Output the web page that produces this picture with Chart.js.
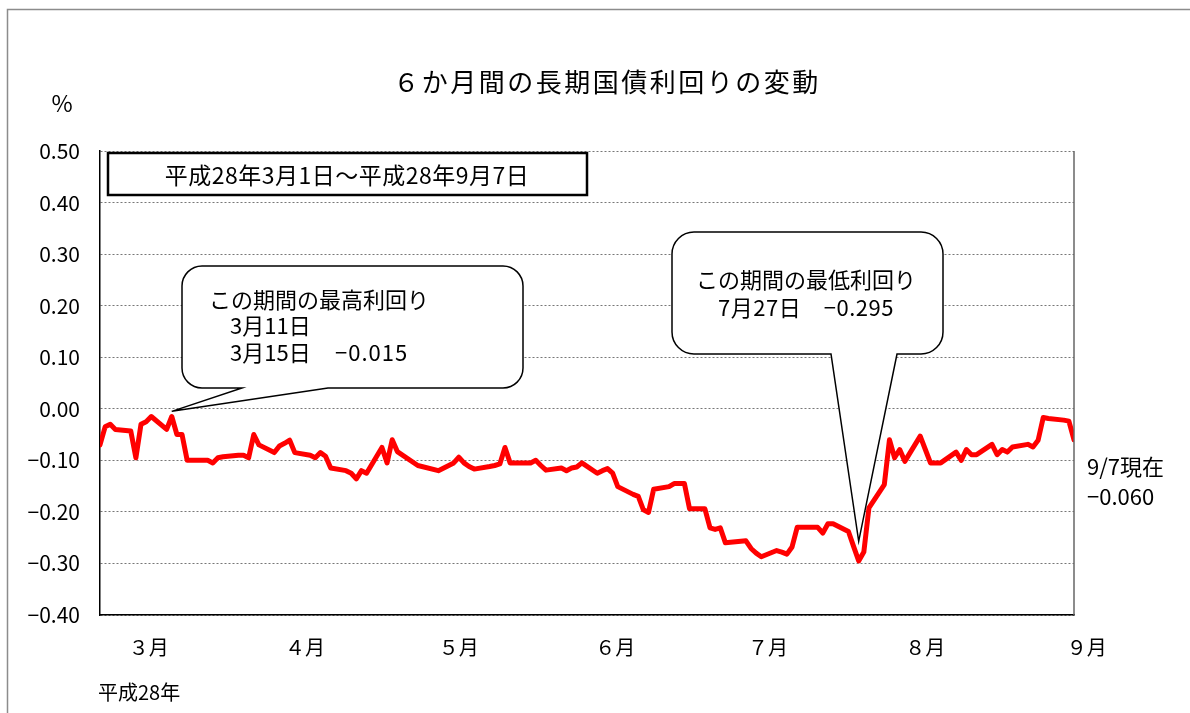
<!DOCTYPE html>
<html>
<head>
<meta charset="utf-8">
<script src="https://cdn.jsdelivr.net/npm/chart.js@4/dist/chart.umd.min.js"></script>
<style>
  html, body { margin: 0; padding: 0; background: #fff; }
  #wrap { width: 1190px; height: 713px; }
</style>
</head>
<body>
<div id="wrap"><canvas id="c" width="1190" height="713"></canvas></div>
<script>
// trading days, 平成28年 (2016)
const dates = [
  '3/1','3/2','3/3','3/4','3/7','3/8','3/9','3/10','3/11','3/14','3/15','3/16','3/17','3/18','3/22','3/23','3/24','3/25','3/28','3/29','3/30','3/31',
  '4/1','4/4','4/5','4/6','4/7','4/8','4/11','4/12','4/13','4/14','4/15','4/18','4/19','4/20','4/21','4/22','4/25','4/26','4/27','4/28',
  '5/2','5/6','5/9','5/10','5/11','5/12','5/13','5/16','5/17','5/18','5/19','5/20','5/23','5/24','5/25','5/26','5/27','5/30','5/31',
  '6/1','6/2','6/3','6/6','6/7','6/8','6/9','6/10','6/13','6/14','6/15','6/16','6/17','6/20','6/21','6/22','6/23','6/24','6/27','6/28','6/29','6/30',
  '7/1','7/4','7/5','7/6','7/7','7/8','7/11','7/12','7/13','7/14','7/15','7/19','7/20','7/21','7/22','7/25','7/26','7/27','7/28','7/29',
  '8/1','8/2','8/3','8/4','8/5','8/8','8/9','8/10','8/12','8/15','8/16','8/17','8/18','8/19','8/22','8/23','8/24','8/25','8/26','8/29','8/30','8/31',
  '9/1','9/2','9/5','9/6','9/7'
];
const yields = [
  -0.070,-0.035,-0.030,-0.040,-0.043,-0.095,-0.030,-0.025,-0.015,-0.040,-0.015,-0.050,-0.050,-0.100,-0.100,-0.105,-0.095,-0.093,-0.090,-0.090,-0.095,-0.050,
  -0.070,-0.085,-0.072,-0.067,-0.061,-0.085,-0.090,-0.095,-0.085,-0.092,-0.115,-0.120,-0.125,-0.136,-0.120,-0.125,-0.075,-0.105,-0.060,-0.083,
  -0.110,-0.120,-0.105,-0.094,-0.105,-0.112,-0.117,-0.112,-0.110,-0.107,-0.075,-0.105,-0.105,-0.105,-0.100,-0.110,-0.119,-0.115,-0.120,
  -0.115,-0.113,-0.105,-0.125,-0.120,-0.116,-0.125,-0.151,-0.166,-0.170,-0.196,-0.201,-0.156,-0.151,-0.145,-0.145,-0.145,-0.194,-0.194,-0.231,-0.234,-0.231,
  -0.260,-0.257,-0.256,-0.271,-0.280,-0.287,-0.275,-0.278,-0.282,-0.268,-0.230,-0.230,-0.241,-0.223,-0.223,-0.238,-0.267,-0.295,-0.278,-0.192,
  -0.147,-0.060,-0.095,-0.079,-0.102,-0.053,-0.079,-0.105,-0.105,-0.084,-0.100,-0.079,-0.089,-0.089,-0.069,-0.089,-0.079,-0.084,-0.074,-0.069,-0.074,-0.061,
  -0.017,-0.019,-0.022,-0.024,-0.060
];
// month labels and where they sit (days after 3/1)
const monthLabels = ['３月','４月','５月','６月','７月','８月','９月'];
const monthLabelDays = [9.5, 40, 70, 100.5, 130.3, 161, 192.5];

const FONT = '"Noto Sans CJK JP", "Noto Sans", sans-serif';
const START = Date.UTC(2016, 2, 1);
const dayOf = s => {
  const [m, d] = s.split('/').map(Number);
  return Math.round((Date.UTC(2016, m - 1, d) - START) / 864e5);
};
const lastDay = dayOf(dates[dates.length - 1]);
const points = dates.map((d, i) => ({ x: dayOf(d), y: yields[i] }));
const fmtY = v => (v < 0 ? '−' : '') + Math.abs(v).toFixed(2);

function bubble(ctx, x, y, w, h, r, t1, t2, tipX, tipY) {
  ctx.beginPath();
  ctx.moveTo(x + r, y);
  ctx.lineTo(x + w - r, y);
  ctx.arcTo(x + w, y, x + w, y + r, r);
  ctx.lineTo(x + w, y + h - r);
  ctx.arcTo(x + w, y + h, x + w - r, y + h, r);
  ctx.lineTo(t2, y + h);
  ctx.lineTo(tipX, tipY);
  ctx.lineTo(t1, y + h);
  ctx.lineTo(x + r, y + h);
  ctx.arcTo(x, y + h, x, y + h - r, r);
  ctx.lineTo(x, y + r);
  ctx.arcTo(x, y, x + r, y, r);
  ctx.closePath();
  ctx.fillStyle = '#fff';
  ctx.fill();
  ctx.lineWidth = 1.5;
  ctx.strokeStyle = '#000';
  ctx.stroke();
}

function text(ctx, s, x, y, size, align, spacing) {
  ctx.font = size + 'px ' + FONT;
  ctx.textAlign = align || 'left';
  ctx.textBaseline = 'middle';
  ctx.fillStyle = '#000';
  ctx.letterSpacing = (spacing || 0) + 'px';
  ctx.fillText(s, x, y);
  ctx.letterSpacing = '0px';
}

const decor = {
  id: 'decor',
  beforeDraw(chart) {
    const ctx = chart.ctx;
    ctx.save();
    ctx.fillStyle = '#fff';
    ctx.fillRect(0, 0, chart.width, chart.height);
    ctx.strokeStyle = '#8c8c8c';
    ctx.lineWidth = 1.5;
    ctx.beginPath();
    ctx.moveTo(7.5, chart.height);
    ctx.lineTo(7.5, 9.5);
    ctx.lineTo(chart.width, 9.5);
    ctx.stroke();
    ctx.restore();
  },
  afterDraw(chart) {
    const ctx = chart.ctx;
    const a = chart.chartArea;
    const xs = chart.scales.x, ys = chart.scales.y;
    ctx.save();
    // right edge of plot
    ctx.strokeStyle = '#666';
    ctx.lineWidth = 1.5;
    ctx.beginPath();
    ctx.moveTo(a.right, a.top);
    ctx.lineTo(a.right, a.bottom);
    ctx.stroke();

    text(ctx, '６か月間の長期国債利回りの変動', 607, 82, 26, 'center', 2.5);
    text(ctx, '%', 62, 103, 23, 'center');

    // period box
    ctx.strokeStyle = '#000';
    ctx.lineWidth = 2.5;
    ctx.fillStyle = '#fff';
    ctx.fillRect(108, 153, 479, 42);
    ctx.strokeRect(108, 153, 479, 42);
    text(ctx, '平成28年3月1日～平成28年9月7日', 347, 175, 23, 'center', 0.5);

    // highest yield callout
    bubble(ctx, 182, 266, 341, 122, 20, 242, 328,
      xs.getPixelForValue(dayOf('3/15')), ys.getPixelForValue(-0.005));
    text(ctx, 'この期間の最高利回り', 209, 300, 22, 'left');
    text(ctx, '3月11日', 230, 326, 22, 'left');
    text(ctx, '3月15日', 230, 353, 22, 'left');
    text(ctx, '−0.015', 335, 353, 22, 'left', 1);

    // lowest yield callout
    bubble(ctx, 672, 232, 271, 122, 22, 831, 897,
      xs.getPixelForValue(dayOf('7/27')), ys.getPixelForValue(-0.257));
    text(ctx, 'この期間の最低利回り', 806, 280, 22, 'center');
    text(ctx, '7月27日　−0.295', 806, 308, 22, 'center', 0.5);

    // latest value
    text(ctx, dates[dates.length - 1] + '現在', 1087, 467, 22, 'left');
    text(ctx, '−' + Math.abs(yields[yields.length - 1]).toFixed(3), 1087, 497, 22, 'left');

    // month labels
    monthLabels.forEach((m, i) => {
      text(ctx, m, xs.getPixelForValue(monthLabelDays[i]), 647, 20, 'center');
    });
    text(ctx, '平成28年', 98, 692, 20, 'left');
    ctx.restore();
  }
};

new Chart(document.getElementById('c'), {
  type: 'line',
  data: {
    datasets: [{
      label: '長期国債利回り',
      data: points,
      borderColor: '#ff0000',
      borderWidth: 5,
      borderJoinStyle: 'round',
      borderCapStyle: 'round',
      pointRadius: 0,
      tension: 0,
      fill: false,
    }],
  },
  options: {
    responsive: false,
    animation: false,
    events: [],
    layout: { padding: { top: 151, right: 116, bottom: 98, left: 0 } },
    plugins: { legend: { display: false }, tooltip: { enabled: false } },
    scales: {
      x: {
        type: 'linear',
        min: 0,
        max: lastDay,
        ticks: { display: false },
        grid: { display: false, drawTicks: false },
        border: { display: true, color: '#000', width: 1.5 },
        afterFit: s => { s.height = 0; },
      },
      y: {
        min: -0.4,
        max: 0.5,
        ticks: {
          stepSize: 0.1,
          padding: 20,
          color: '#000',
          font: { family: FONT, size: 21 },
          callback: v => fmtY(v),
        },
        grid: { color: '#777', lineWidth: 1, drawTicks: false },
        border: { display: true, color: '#000', width: 1.5, dash: [2, 2] },
        afterFit: s => { s.width = 100; },
      },
    },
  },
  plugins: [decor],
});
</script>
</body>
</html>
